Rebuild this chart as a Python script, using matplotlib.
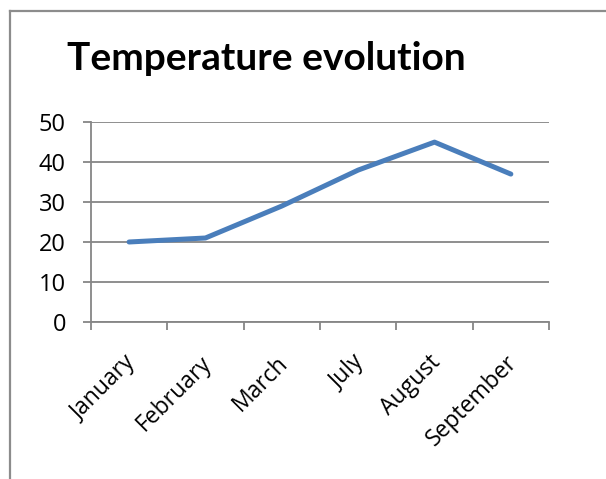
import matplotlib
matplotlib.use("Agg")
import matplotlib.pyplot as plt
from matplotlib.lines import Line2D


months = ["January", "February", "March", "July", "August", "September"]
temperatures = [20, 21, 29, 38, 45, 37]
y_ticks = [0, 10, 20, 30, 40, 50]

LINE_COLOR = "#4A7EBB"
GRID_COLOR = "#868686"
FONT = "Open Sans"
TITLE_FONT = "Lato"


def draw_chart():
    fig = plt.figure(figsize=(6.06, 4.79), dpi=100)
    ax = fig.add_axes([0.150, 0.328, 0.756, 0.417])

    x = list(range(len(months)))
    ax.plot(x, temperatures, color=LINE_COLOR, linewidth=3.6,
            solid_capstyle="round", solid_joinstyle="round", zorder=3)

    ax.set_xlim(-0.5, len(months) - 0.5)
    ax.set_ylim(0, 50)
    ax.set_yticks(y_ticks)
    ax.set_yticklabels([str(v) for v in y_ticks], fontsize=17, family=FONT)

    # category ticks sit between categories, like Excel
    ax.set_xticks([i - 0.5 for i in range(len(months) + 1)])
    ax.set_xticklabels([])
    for i, name in enumerate(months):
        ax.annotate(name, xy=(i, 0), xycoords=("data", "axes fraction"),
                    xytext=(2, -27), textcoords="offset points",
                    rotation=45, ha="right", va="center",
                    rotation_mode="anchor", fontsize=16.5, family=FONT)

    ax.grid(axis="y", color=GRID_COLOR, linewidth=1.3)
    ax.set_axisbelow(True)
    for side in ["top", "right"]:
        ax.spines[side].set_visible(False)
    for side in ["left", "bottom"]:
        ax.spines[side].set_color(GRID_COLOR)
        ax.spines[side].set_linewidth(1.3)
    ax.tick_params(axis="both", color=GRID_COLOR, width=1.3, length=6)
    ax.tick_params(axis="y", pad=12)

    fig.text(0.44, 0.877, "Temperature evolution", ha="center", va="center",
             fontsize=28, fontweight="bold", family=TITLE_FONT)

    # outer chart border (left and top edges visible)
    fig.add_artist(Line2D([9.5 / 606, 9.5 / 606], [0, 1 - 11 / 479],
                          transform=fig.transFigure, color="#8c8c8c", linewidth=1.6))
    fig.add_artist(Line2D([9.5 / 606, 1], [1 - 11 / 479, 1 - 11 / 479],
                          transform=fig.transFigure, color="#8c8c8c", linewidth=1.6))

    fig.savefig("out.png", dpi=100)


if __name__ == "__main__":
    draw_chart()
